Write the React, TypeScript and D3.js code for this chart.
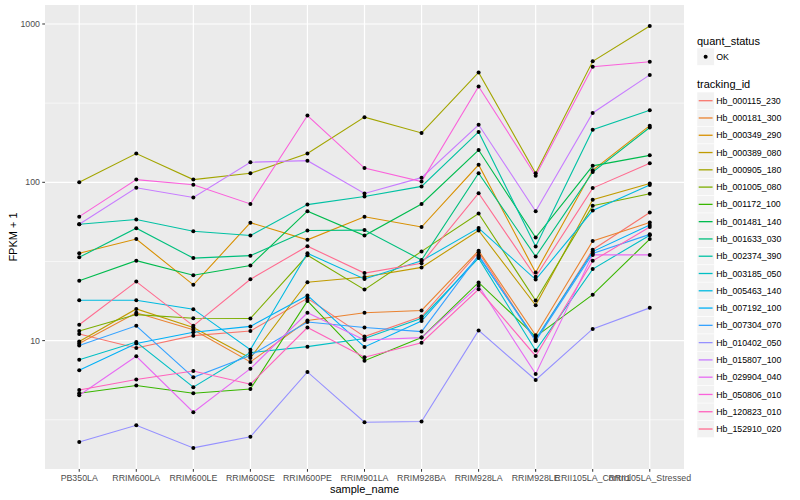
import * as d3 from "d3";

const samples = [
  "PB350LA",
  "RRIM600LA",
  "RRIM600LE",
  "RRIM600SE",
  "RRIM600PE",
  "RRIM901LA",
  "RRIM928BA",
  "RRIM928LA",
  "RRIM928LE",
  "RRII105LA_Control",
  "RRII105LA_Stressed",
];

const trackingIds = [
  "Hb_000115_230",
  "Hb_000181_300",
  "Hb_000349_290",
  "Hb_000389_080",
  "Hb_000905_180",
  "Hb_001005_080",
  "Hb_001172_100",
  "Hb_001481_140",
  "Hb_001633_030",
  "Hb_002374_390",
  "Hb_003185_050",
  "Hb_005463_140",
  "Hb_007192_100",
  "Hb_007304_070",
  "Hb_010402_050",
  "Hb_015807_100",
  "Hb_029904_040",
  "Hb_050806_010",
  "Hb_120823_010",
  "Hb_152910_020",
];

// ggplot default hue palette, 20 levels
const colors = [
  "#F8766D", "#EA8331", "#D89000", "#C09B00", "#A3A500",
  "#7CAE00", "#39B600", "#00BB4E", "#00BF7D", "#00C1A3",
  "#00BFC4", "#00BAE0", "#00B0F6", "#35A2FF", "#9590FF",
  "#C77CFF", "#E76BF3", "#FA62DB", "#FF62BC", "#FF6C90",
];

// FPKM + 1, one value per sample
const hb000115_230 = [11.0, 8.99, 10.75, 11.5, 18.5, 10.6, 14.2, 36.2, 10.0, 37.5, 64.4];
const hb000181_300 = [9.6, 15.0, 11.7, 7.33, 13.4, 15.0, 15.5, 37.0, 10.8, 42.6, 55.8];
const hb000349_290 = [35.6, 43.8, 22.5, 55.6, 43.3, 60.6, 52.2, 129, 26.9, 119, 228];
const hb000389_080 = [9.86, 15.86, 12.1, 7.77, 23.4, 25.2, 29.0, 49.6, 16.7, 77.6, 98.3];
const hb000905_180 = [100, 152, 104, 114, 152, 258, 205, 494, 114, 581, 970];
const hb001005_080 = [11.5, 14.6, 13.85, 13.8, 34.6, 21.0, 36.6, 63.5, 17.9, 71.2, 84.6];
const hb001172_100 = [4.65, 5.2, 4.65, 4.95, 17.8, 7.47, 10.45, 23.3, 10.6, 19.5, 43.8];
const hb001481_140 = [23.9, 32.0, 25.9, 29.8, 65.7, 46.1, 73.0, 160, 44.8, 127, 148];
const hb001633_030 = [33.6, 51.3, 33.2, 34.4, 49.6, 49.9, 32.3, 114, 34.0, 116, 222];
const hb002374_390 = [54.3, 58.2, 49.1, 46.1, 72.3, 81.4, 94.2, 208, 39.3, 215, 285];
const hb003185_050 = [7.58, 9.8, 5.08, 8.4, 9.16, 10.3, 13.85, 33.2, 8.65, 28.3, 46.3];
const hb005463_140 = [18.0, 18.0, 15.8, 8.77, 35.6, 24.5, 31.9, 51.4, 24.3, 66.3, 96];
const hb007192_100 = [6.5, 9.6, 11.3, 12.3, 19.3, 9.12, 13.3, 34.0, 10.2, 36.5, 53.7];
const hb007304_070 = [9.3, 12.4, 5.86, 8.05, 13.1, 12.1, 11.4, 34.6, 9.96, 35.5, 46.9];
const hb010402_050 = [2.29, 2.92, 2.1, 2.47, 6.34, 3.05, 3.08, 11.6, 5.64, 11.85, 16.1];
const hb015807_100 = [54.3, 92.3, 80.2, 134, 137, 85, 107, 231, 65.6, 274, 477];
const hb029904_040 = [4.52, 7.96, 3.53, 6.65, 15.0, 10.1, 10.45, 22.2, 6.16, 34.8, 34.8];
const hb050806_010 = [60.7, 104, 96.4, 73, 264, 123, 101, 403, 110, 537, 578];
const hb120823_010 = [4.88, 5.68, 6.43, 5.3, 12.1, 7.85, 9.7, 21.1, 8.0, 31.9, 52.2];
const hb152910_020 = [12.6, 23.6, 12.4, 24.4, 39.5, 26.7, 30.8, 85.3, 25.3, 91.9, 132];

const seriesValues = [
  hb000115_230, hb000181_300, hb000349_290, hb000389_080, hb000905_180,
  hb001005_080, hb001172_100, hb001481_140, hb001633_030, hb002374_390,
  hb003185_050, hb005463_140, hb007192_100, hb007304_070, hb010402_050,
  hb015807_100, hb029904_040, hb050806_010, hb120823_010, hb152910_020,
];

const yTicks = [10, 100, 1000];
const yMinor = [Math.sqrt(10), Math.sqrt(1000), Math.sqrt(100000)];

const font = "'Liberation Sans', Arial, Helvetica, sans-serif";

type Point = { sample: string; value: number };

export default function App() {
  const width = 800;
  const height = 500;
  const panel = { left: 45, right: 684, top: 5, bottom: 469 };

  const series = trackingIds.map((id, i) => ({
    id,
    color: colors[i],
    points: samples.map((sample, j) => ({ sample, value: seriesValues[i][j] })),
  }));

  const all = seriesValues.flat();
  const [lo, hi] = d3.extent(all) as [number, number];
  const pad = (Math.log10(hi) - Math.log10(lo)) * 0.05;

  const x = d3.scalePoint<string>().domain(samples).range([panel.left, panel.right]).padding(0.6);
  const y = d3
    .scaleLog()
    .domain([10 ** (Math.log10(lo) - pad), 10 ** (Math.log10(hi) + pad)])
    .range([panel.bottom, panel.top]);

  const line = d3
    .line<Point>()
    .x((d) => x(d.sample) ?? 0)
    .y((d) => y(d.value));

  const legendX = 697;
  const keySize = 17.28;
  const firstKey = 100.7;
  const labelX = legendX + keySize + 2;

  return (
    <div style={{ position: "absolute", left: 0, top: 0 }}>
      <svg width={width} height={height} style={{ display: "block", fontFamily: font }}>
        <rect width={width} height={height} fill="#ffffff" />
        <rect
          x={panel.left}
          y={panel.top}
          width={panel.right - panel.left}
          height={panel.bottom - panel.top}
          fill="#EBEBEB"
        />
        {yMinor.map((t) => (
          <line key={`m${t}`} x1={panel.left} x2={panel.right} y1={y(t)} y2={y(t)} stroke="#fff" strokeWidth={0.6} />
        ))}
        {yTicks.map((t) => (
          <line key={`g${t}`} x1={panel.left} x2={panel.right} y1={y(t)} y2={y(t)} stroke="#fff" strokeWidth={1.2} />
        ))}
        {samples.map((s) => (
          <line key={`v${s}`} x1={x(s)} x2={x(s)} y1={panel.top} y2={panel.bottom} stroke="#fff" strokeWidth={1.2} />
        ))}

        {series.map((s) => (
          <path key={s.id} d={line(s.points) ?? undefined} fill="none" stroke={s.color} strokeWidth={1.1} />
        ))}
        {series.map((s) =>
          s.points.map((p) => (
            <circle key={`${s.id}-${p.sample}`} cx={x(p.sample)} cy={y(p.value)} r={2} fill="#000" />
          ))
        )}

        {/* y axis */}
        {yTicks.map((t) => (
          <g key={`yt${t}`}>
            <line x1={panel.left - 2.75} x2={panel.left} y1={y(t)} y2={y(t)} stroke="#333" strokeWidth={1} />
            <text x={panel.left - 5} y={y(t)} dy="0.35em" textAnchor="end" fontSize={8.8} fill="#4D4D4D">
              {t}
            </text>
          </g>
        ))}
        <text
          transform={`translate(13, ${(panel.top + panel.bottom) / 2}) rotate(-90)`}
          textAnchor="middle"
          dy="0.35em"
          fontSize={11}
          fill="#000"
        >
          FPKM + 1
        </text>

        {/* x axis */}
        {samples.map((s) => (
          <g key={`xt${s}`}>
            <line x1={x(s)} x2={x(s)} y1={panel.bottom} y2={panel.bottom + 2.75} stroke="#333" strokeWidth={1} />
            <text x={x(s)} y={panel.bottom + 11.5} textAnchor="middle" fontSize={8.8} fill="#4D4D4D">
              {s}
            </text>
          </g>
        ))}
        <text x={(panel.left + panel.right) / 2} y={493} textAnchor="middle" fontSize={11} fill="#000">
          sample_name
        </text>

        {/* legends */}
        <text x={legendX} y={40.7} dy="0.35em" fontSize={11} fill="#000">
          quant_status
        </text>
        <rect
          x={legendX}
          y={56.7 - keySize / 2}
          width={keySize}
          height={keySize}
          fill="#F2F2F2"
          stroke="#fff"
          strokeWidth={0.5}
        />
        <circle cx={legendX + keySize / 2} cy={56.7} r={2} fill="#000" />
        <text x={labelX} y={56.7} dy="0.35em" fontSize={8.8} fill="#000">
          OK
        </text>

        <text x={legendX} y={84} dy="0.35em" fontSize={11} fill="#000">
          tracking_id
        </text>
        {series.map((s, i) => {
          const cy = firstKey + i * keySize;
          return (
            <g key={`lg${s.id}`}>
              <rect
                x={legendX}
                y={cy - keySize / 2}
                width={keySize}
                height={keySize}
                fill="#F2F2F2"
                stroke="#fff"
                strokeWidth={0.5}
              />
              <line x1={legendX + 1.7} x2={legendX + keySize - 1.7} y1={cy} y2={cy} stroke={s.color} strokeWidth={1.3} />
              <text x={labelX} y={cy} dy="0.35em" fontSize={8.8} fill="#000">
                {s.id}
              </text>
            </g>
          );
        })}
      </svg>
    </div>
  );
}
